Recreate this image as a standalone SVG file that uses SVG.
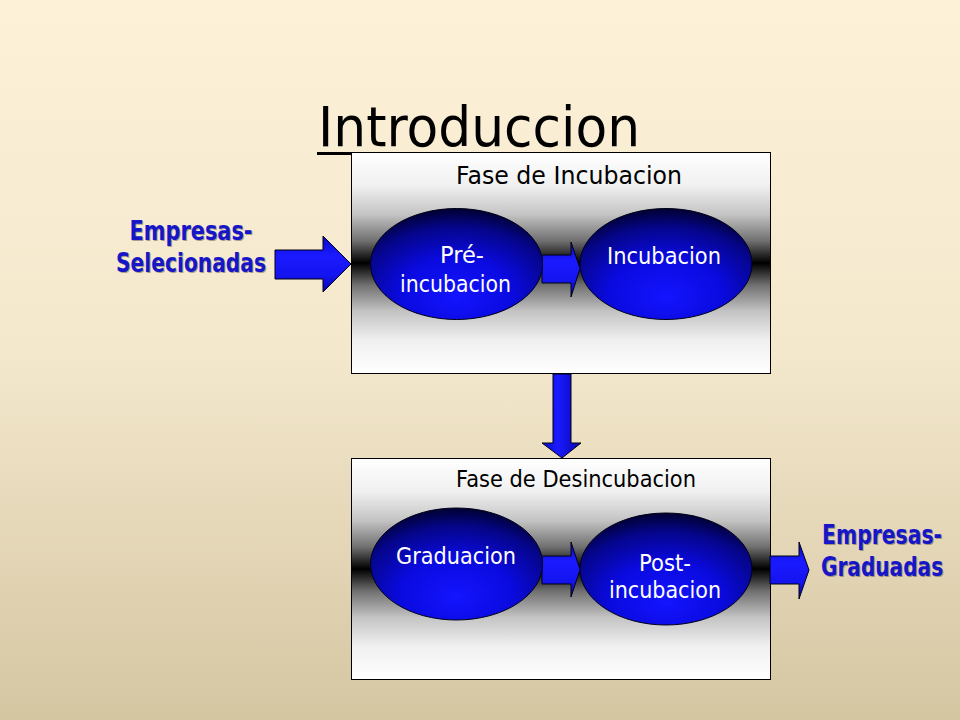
<svg xmlns="http://www.w3.org/2000/svg" width="960" height="720" viewBox="0 0 960 720">
  <defs>
    <linearGradient id="bg" x1="0" y1="0" x2="0" y2="1">
      <stop offset="0" stop-color="#fdf1d8"/>
      <stop offset="0.5" stop-color="#f3e7cc"/>
      <stop offset="1" stop-color="#d5c6a2"/>
    </linearGradient>
    <linearGradient id="band" x1="0" y1="0" x2="0" y2="1">
      <stop offset="0" stop-color="#ffffff"/>
      <stop offset="0.15" stop-color="#f0f0f0"/>
      <stop offset="0.28" stop-color="#c4c4c4"/>
      <stop offset="0.4" stop-color="#707070"/>
      <stop offset="0.47" stop-color="#202020"/>
      <stop offset="0.5" stop-color="#000000"/>
      <stop offset="0.53" stop-color="#202020"/>
      <stop offset="0.6" stop-color="#707070"/>
      <stop offset="0.72" stop-color="#c4c4c4"/>
      <stop offset="0.85" stop-color="#f0f0f0"/>
      <stop offset="1" stop-color="#ffffff"/>
    </linearGradient>
    <radialGradient id="oval" cx="0.5" cy="0.72" r="0.72" fx="0.5" fy="0.8">
      <stop offset="0" stop-color="#1414ff"/>
      <stop offset="0.45" stop-color="#0a0ae0"/>
      <stop offset="0.8" stop-color="#050588"/>
      <stop offset="1" stop-color="#000030"/>
    </radialGradient>
    <linearGradient id="arrowFill" x1="0" y1="0" x2="0" y2="1">
      <stop offset="0" stop-color="#0808c8"/>
      <stop offset="0.35" stop-color="#1a1aff"/>
      <stop offset="0.7" stop-color="#1414f0"/>
      <stop offset="1" stop-color="#0606b0"/>
    </linearGradient>
    <linearGradient id="arrowFillV" x1="0" y1="0" x2="1" y2="0">
      <stop offset="0" stop-color="#0808c8"/>
      <stop offset="0.4" stop-color="#1a1aff"/>
      <stop offset="1" stop-color="#0606b0"/>
    </linearGradient>
    <style>
      .sans { font-family: "DejaVu Sans", "Liberation Sans", sans-serif; }
      .phase { fill: url(#band); stroke: #000; stroke-width: 1; }
      .phaseTitle { font-size: 25px; fill: #000; }
      .oval { fill: url(#oval); stroke: #000018; stroke-width: 1; }
      .ovalText { font-size: 23px; fill: #ffffff; }
      .arrow { fill: url(#arrowFill); stroke: #000010; stroke-width: 1; stroke-linejoin: miter; }
      .arrowV { fill: url(#arrowFillV); stroke: #000010; stroke-width: 1; }
      .label { font-size: 27px; font-weight: bold; fill: #1616c8; }
      .shadow { font-size: 27px; font-weight: bold; fill: #333; opacity: 0.4; }
    </style>
  </defs>

  <rect x="0" y="0" width="960" height="720" fill="url(#bg)"/>

  <g id="title">
    <text class="sans" x="318" y="146" font-size="56" fill="#000" textLength="322" lengthAdjust="spacingAndGlyphs">Introduccion</text>
    <line x1="317" y1="153.5" x2="352" y2="153.5" stroke="#000" stroke-width="3"/>
  </g>

  <g id="fase-incubacion">
    <rect class="phase" x="351.5" y="152.5" width="419" height="221"/>
    <text class="sans phaseTitle" x="456" y="184" textLength="226" lengthAdjust="spacingAndGlyphs">Fase de Incubacion</text>
  </g>

  <g id="fase-desincubacion">
    <rect class="phase" x="351.5" y="458.5" width="419" height="221"/>
    <text class="sans phaseTitle" x="456" y="487" textLength="240" lengthAdjust="spacingAndGlyphs" style="font-size:23px">Fase de Desincubacion</text>
  </g>

  <g id="connectors">
    <polygon class="arrow" points="275,250 323,250 323,236 351,264 323,292 323,279 275,279"/>
    <polygon class="arrow" points="542,255 571,255 571,242 580,268.5 571,297 571,283 542,283"/>
    <polygon class="arrowV" points="553,374 571,374 571,443 581,443 562,458 542,443 553,443"/>
    <polygon class="arrow" points="542,556 571,556 571,542 580,569.5 571,597 571,584 542,584"/>
    <polygon class="arrow" points="770,556 799,556 799,542 809,570 799,599 799,584 770,584"/>
  </g>

  <g id="pre-incubacion">
    <ellipse class="oval" cx="456.5" cy="264" rx="86" ry="55.5"/>
    <text class="sans ovalText" x="462" y="263" text-anchor="middle" textLength="44" lengthAdjust="spacingAndGlyphs">Pré-</text>
    <text class="sans ovalText" x="455.5" y="292" text-anchor="middle" textLength="111" lengthAdjust="spacingAndGlyphs">incubacion</text>
  </g>

  <g id="incubacion">
    <ellipse class="oval" cx="666" cy="264" rx="86" ry="55.5"/>
    <text class="sans ovalText" x="664" y="264" text-anchor="middle" textLength="114" lengthAdjust="spacingAndGlyphs">Incubacion</text>
  </g>

  <g id="graduacion">
    <ellipse class="oval" cx="456.5" cy="564" rx="86" ry="56"/>
    <text class="sans ovalText" x="456" y="564" text-anchor="middle" textLength="120" lengthAdjust="spacingAndGlyphs">Graduacion</text>
  </g>

  <g id="post-incubacion">
    <ellipse class="oval" cx="666" cy="569" rx="86" ry="56"/>
    <text class="sans ovalText" x="665" y="571" text-anchor="middle" textLength="52" lengthAdjust="spacingAndGlyphs">Post-</text>
    <text class="sans ovalText" x="665" y="598" text-anchor="middle" textLength="112" lengthAdjust="spacingAndGlyphs">incubacion</text>
  </g>

  <g id="empresas-selecionadas">
    <text class="sans shadow" transform="translate(192 241) scale(0.75 1)" text-anchor="middle" textLength="164" lengthAdjust="spacingAndGlyphs">Empresas-</text>
    <text class="sans shadow" transform="translate(192 273) scale(0.75 1)" text-anchor="middle" textLength="200" lengthAdjust="spacingAndGlyphs">Selecionadas</text>
    <text class="sans label" transform="translate(191 240) scale(0.75 1)" text-anchor="middle" textLength="164" lengthAdjust="spacingAndGlyphs">Empresas-</text>
    <text class="sans label" transform="translate(191 272) scale(0.75 1)" text-anchor="middle" textLength="200" lengthAdjust="spacingAndGlyphs">Selecionadas</text>
  </g>

  <g id="empresas-graduadas">
    <text class="sans shadow" transform="translate(883 545) scale(0.75 1)" text-anchor="middle" textLength="160" lengthAdjust="spacingAndGlyphs">Empresas-</text>
    <text class="sans shadow" transform="translate(883 577) scale(0.75 1)" text-anchor="middle" textLength="163" lengthAdjust="spacingAndGlyphs">Graduadas</text>
    <text class="sans label" transform="translate(882 544) scale(0.75 1)" text-anchor="middle" textLength="160" lengthAdjust="spacingAndGlyphs">Empresas-</text>
    <text class="sans label" transform="translate(882 576) scale(0.75 1)" text-anchor="middle" textLength="163" lengthAdjust="spacingAndGlyphs">Graduadas</text>
  </g>
</svg>
